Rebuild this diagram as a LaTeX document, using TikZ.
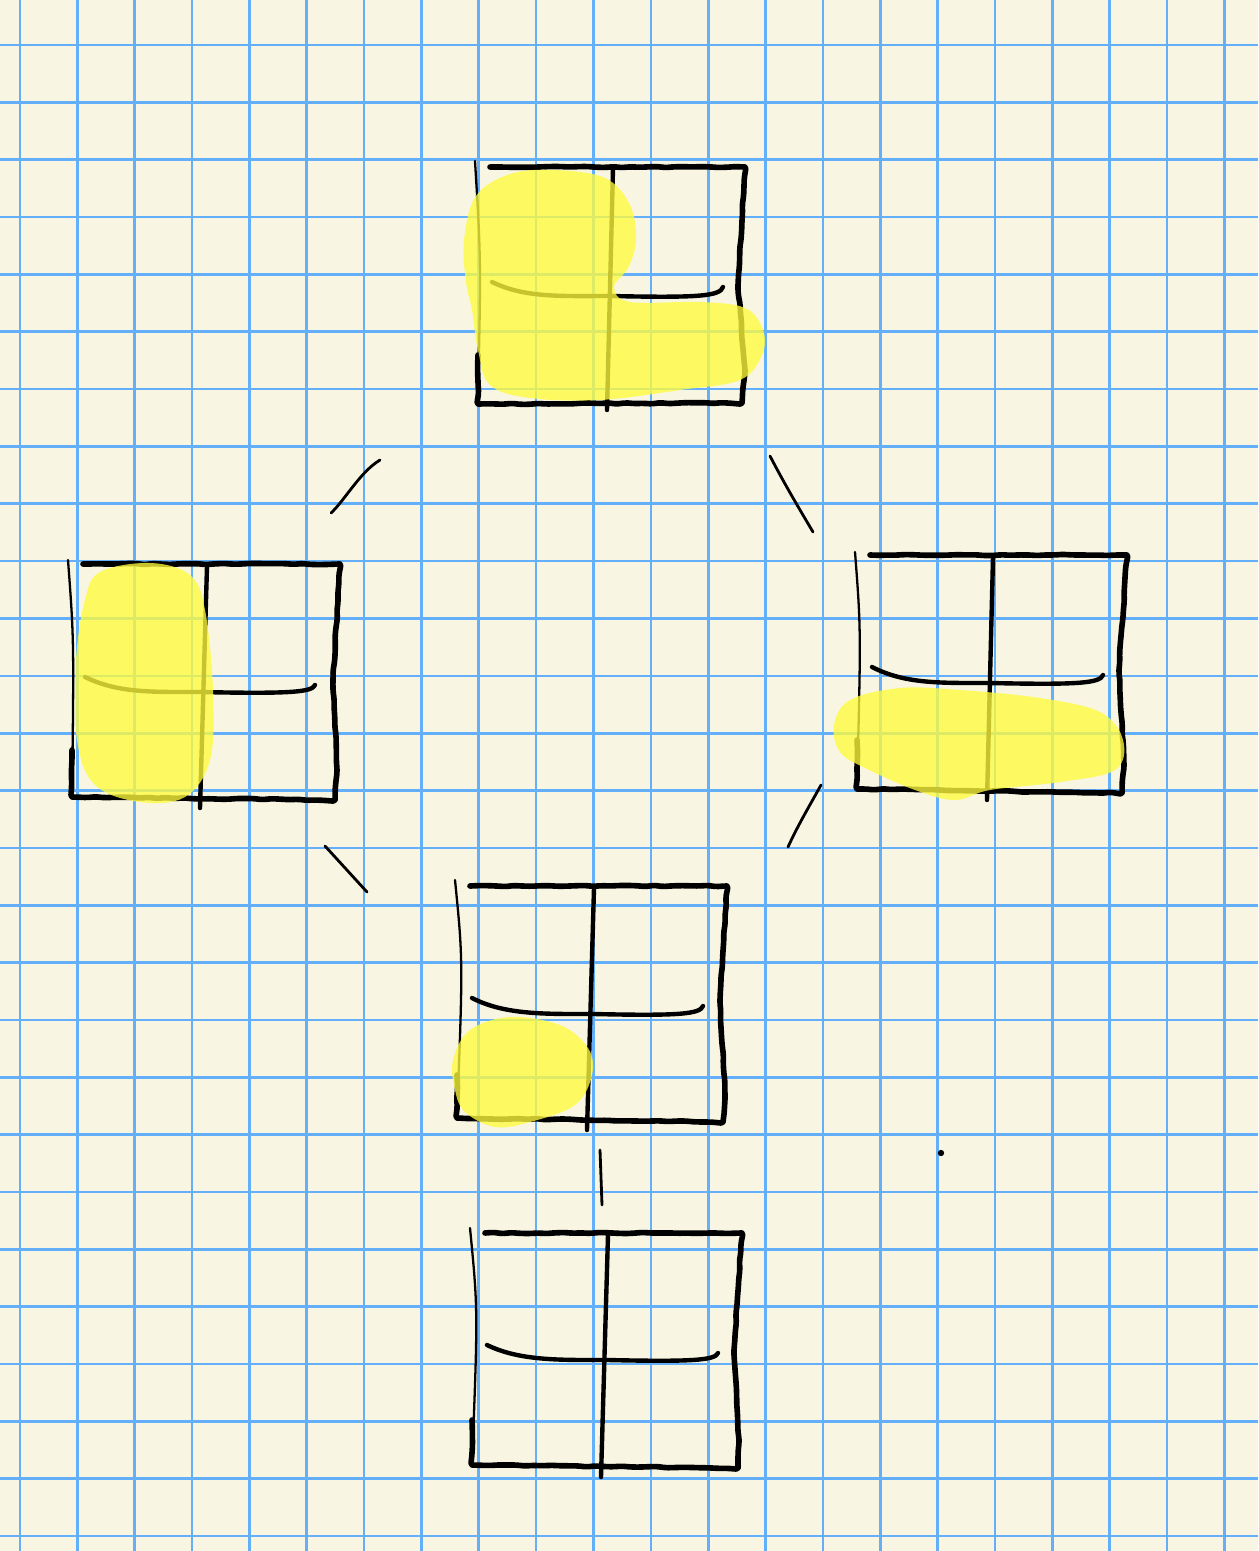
\documentclass[tikz,border=0pt]{standalone}
\usepackage{xcolor}
\usetikzlibrary{decorations.pathmorphing}
\definecolor{paper}{RGB}{248,246,226}
\definecolor{rule}{RGB}{100,175,250}
\definecolor{marker}{RGB}{255,251,60}
\tikzset{
  rule/.style={draw=rule, line width=1.5pt},
  pen/.style={draw=black, line width=3.2pt, line cap=round, line join=round,
              decorate, decoration={random steps, segment length=5pt, amplitude=0.35pt}, rounded corners=1.2pt},
  hair/.style={draw=black, line width=1.3pt, line cap=round},
  bar/.style={draw=black, line width=2.5pt, line cap=round},
  tie/.style={draw=black, line width=1.6pt, line cap=round},
  marker/.style={fill=marker, fill opacity=0.78, draw=none},
}

\begin{document}
\begin{tikzpicture}[x=0.02cm, y=-0.02cm]
  \pgfmathsetseed{11}
  % paper and rules
  \fill[paper] (0,0) rectangle (1258,1551);
  \useasboundingbox (0,0) rectangle (1258,1551);
  \foreach \i in {0,...,21} \draw[rule] ({20+57.35*\i},0) -- ++(0,1551);
  \foreach \j in {0,...,26} \draw[rule] (0,{45+57.35*\j}) -- ++(1258,0);

  % top square
  \draw[hair] (475,161) .. controls (481,260) .. (478,400);
  \draw[pen] (490,167) -- (745,167) -- (738,285) -- (745,370) -- (742,403) -- (478,404) -- (478,355);
  \draw[bar] (613,168) -- (607,410);
  \draw[bar] (492,282) .. controls (525,298) and (560,296) .. (611,296) .. controls (700,298) and (720,296) .. (723,287);

  % left square
  \draw[hair] (68,560) .. controls (74,640) .. (72,797);
  \draw[pen] (83,564) -- (340,564) -- (333,680) -- (337,770) -- (335,800) -- (72,797) -- (72,750);
  \draw[bar] (207,566) -- (200,808);
  \draw[bar] (85,677) .. controls (118,693) and (150,692) .. (200,692) .. controls (292,694) and (312,692) .. (315,685);

  % right square
  \draw[hair] (855,552) .. controls (861,630) .. (857,788);
  \draw[pen] (870,555) -- (1127,555) -- (1119,670) -- (1124,765) -- (1122,793) -- (857,789) -- (857,740);
  \draw[bar] (993,557) -- (987,800);
  \draw[bar] (872,667) .. controls (905,684) and (940,683) .. (990,683) .. controls (1080,685) and (1100,683) .. (1103,675);

  % lower square
  \draw[hair] (455,880) .. controls (463,960) .. (457,1118);
  \draw[pen] (470,886) -- (727,886) -- (720,1000) -- (725,1095) -- (723,1122) -- (457,1118) -- (457,1075);
  \draw[bar] (594,888) -- (587,1130);
  \draw[bar] (472,998) .. controls (505,1015) and (545,1014) .. (594,1014) .. controls (680,1016) and (700,1014) .. (703,1006);

  % bottom square
  \draw[hair] (470,1228) .. controls (478,1310) .. (472,1465);
  \draw[pen] (485,1233) -- (742,1233) -- (734,1350) -- (739,1440) -- (738,1468) -- (472,1465) -- (472,1420);
  \draw[bar] (608,1235) -- (601,1477);
  \draw[bar] (487,1345) .. controls (520,1361) and (560,1360) .. (608,1360) .. controls (695,1362) and (715,1360) .. (718,1353);

  % links between the squares
  \coordinate (tl-a) at (331,513);
  \coordinate (tl-b) at (380,460);
  \coordinate (tr-a) at (770,456);
  \coordinate (tr-b) at (813,532);
  \coordinate (bl-a) at (325,846);
  \coordinate (bl-b) at (367,892);
  \coordinate (br-a) at (788,847);
  \coordinate (br-b) at (821,785);
  \coordinate (dn-a) at (600,1150);
  \coordinate (dn-b) at (602,1205);
  \draw[tie] (tl-a) .. controls (345,500) and (360,472) .. (tl-b);
  \draw[tie] (tr-a) .. controls (785,485) and (800,510) .. (tr-b);
  \draw[tie] (bl-a) -- (bl-b);
  \draw[tie] (br-a) .. controls (798,825) and (810,805) .. (br-b);
  \draw[tie] (dn-a) -- (dn-b);
  \fill (941,1153) circle (1.8pt);

  % highlighter
  \fill[marker] plot[smooth cycle, tension=0.6] coordinates {
    (464,240) (476,196) (510,174) (555,170) (605,178) (630,205) (636,240) (628,268)
    (614,287) (630,302) (700,302) (745,308) (763,330) (762,355) (740,380) (680,390)
    (600,400) (530,398) (490,385) (478,350) (472,310) (466,282)};
  \fill[marker] plot[smooth cycle, tension=0.6] coordinates {
    (85,600) (100,572) (150,563) (190,575) (205,610) (213,690) (210,760) (185,797)
    (140,802) (95,785) (77,740) (76,660)};
  \fill[marker] plot[smooth cycle, tension=0.6] coordinates {
    (834,725) (850,700) (900,688) (960,690) (1040,698) (1100,712) (1123,740) (1115,770)
    (1060,782) (990,790) (955,800) (915,790) (865,768) (840,752)};
  \fill[marker] plot[smooth cycle, tension=0.6] coordinates {
    (453,1060) (470,1030) (510,1017) (560,1025) (588,1048) (592,1075) (575,1105)
    (530,1122) (495,1127) (465,1112) (455,1090)};
\end{tikzpicture}
\end{document}
